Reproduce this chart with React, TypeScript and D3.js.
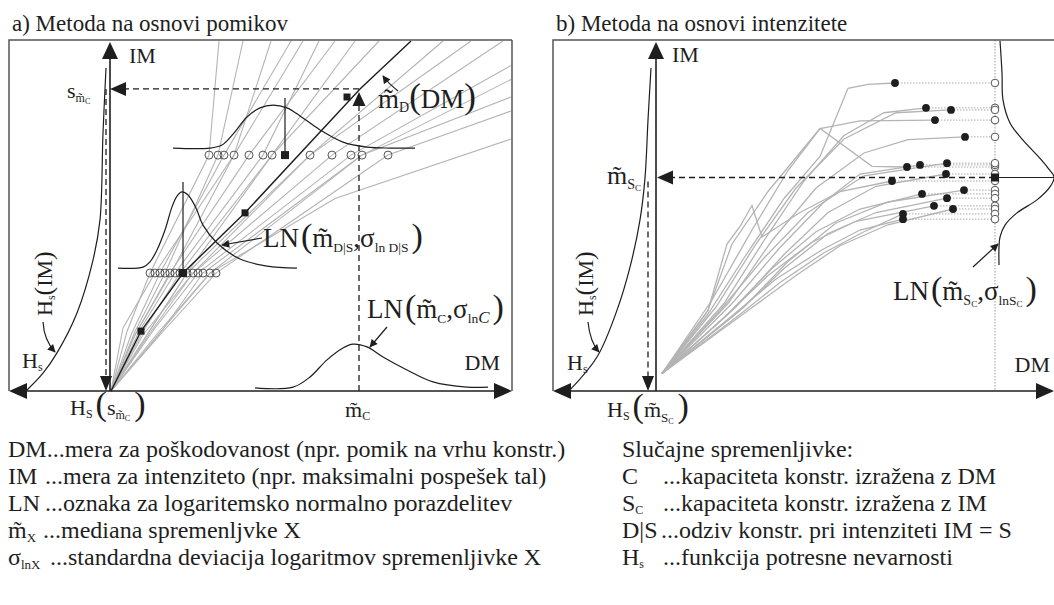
import React from "react";
import * as d3 from "d3";

const FONT = "'Liberation Serif', 'Times New Roman', Times, serif";
const INK = "#1e1e1e";
const FRAME = "#555";
const GREY = "#b4b4b4";
const MT = "m\u0303";

// ---------- panel a (displacement based) : DM / IM in 0..100 ----------
const rowLowIM = 33.7;
const rowHighIM = 67.4;
const rowLowDM = [9.75, 11, 12.25, 13.5, 14.75, 16, 17.25, 19, 20.5, 21.75, 23, 24.75, 26.25];
const rowHighDM = [24.5, 26.75, 28.25, 30.75, 34.5, 38, 40.25, 49.75, 55.25, 60, 62.75, 69.25];
const rowLowMedianDM = 18;
const rowHighMedianDM = 43.5;
const rowLowPeakIM = 59.7;
const rowHighPeakIM = 83.7;

const idaA: [number, number][][] = [
  [[0, 0], [4, 17], [9.75, 33.7], [24.5, 67.4], [27, 100]],
  [[0, 0], [3, 18], [11, 33.7], [30.75, 67.4], [40, 100]],
  [[0, 0], [5, 16], [12.25, 33.7], [28.25, 67.4], [45, 100]],
  [[0, 0], [6, 17], [13.5, 33.7], [26.75, 67.4], [33, 100]],
  [[0, 0], [5.5, 15], [14.75, 33.7], [34.5, 67.4], [56, 100]],
  [[0, 0], [7, 17], [16, 33.7], [38, 67.4], [52, 100]],
  [[0, 0], [8, 17], [17.25, 33.7], [40.25, 67.4], [67, 100]],
  [[0, 0], [9, 16], [19, 33.7], [49.75, 67.4], [83, 100]],
  [[0, 0], [10, 17], [20.5, 33.7], [55.25, 67.4], [98, 100]],
  [[0, 0], [11, 18], [21.75, 33.7], [60, 67.4], [100, 93]],
  [[0, 0], [12, 16], [23, 33.7], [62.75, 67.4], [100, 84]],
  [[0, 0], [13, 17], [26.25, 33.7], [69.25, 67.4], [100, 80]],
  [[0, 0], [11, 15], [24.75, 33.7], [56, 55], [100, 72]],
  [[0, 0], [6, 16], [15, 33.7], [30.75, 67.4], [48, 100]],
  [[0, 0], [8, 16], [20.5, 33.7], [49.75, 67.4], [90, 100]],
  [[0, 0], [12, 17], [24.75, 33.7], [62.75, 67.4], [100, 89]],
  [[0, 0], [9.5, 17], [19, 33.7], [40.25, 67.4], [61, 100]],
];

const medianDM = [0, 7.5, 18, 33.5, 62.25, 75];
const medianIM = [0, 17.1, 33.7, 50.9, 86.3, 100];
const medianMarkDM = [7.5, 33.5, 59];
const medianMarkIM = [17.1, 50.9, 84];

const capMedianDM = 62;
const capSIM = 86.3;

const pdfLowDM = [1.75, 8, 9.75, 11.5, 13.5, 15.25, 16.5, 17.75, 19.25, 21.25, 23, 26.5, 32.25, 39, 46.5];
const pdfLowIM = [35.1, 35.4, 36.9, 40.3, 46, 52.6, 55.7, 56.9, 56, 52.3, 47.4, 42.3, 37.7, 35.7, 35.1];
const pdfHighDM = [15.5, 24.75, 27.75, 30.5, 34, 37.25, 40.5, 44, 47.25, 52.25, 58, 64, 69.75, 76];
const pdfHighIM = [69.4, 69.4, 70.3, 73.4, 78.3, 80.9, 81.7, 80.9, 78.6, 74.6, 71.1, 69.7, 69.4, 69.4];
const pdfCapDM = [36, 45.5, 49.75, 54, 58, 60.5, 64, 68, 74, 80.5, 89, 94.25];
const pdfCapIM = [0.9, 1.1, 4, 8.9, 12.3, 13.4, 12.6, 9.7, 6, 2.6, 1.1, 1.1];

const hazardAH = [81, 65, 51, 31, 15, 8, 5, 2];
const hazardAIM = [0.3, 5.1, 10.9, 22.3, 37.4, 48.9, 73.7, 92.3];
const hazardAAtS = 2;

// ---------- panel b (intensity based) ----------
const idaB: [number, number][][] = [
  [[1.5, 5], [13, 22], [22, 38], [32, 55], [41, 67], [48, 86.5], [53, 87.6], [59.75, 88]],
  [[1.5, 5], [17, 25], [27, 43], [37, 60], [47, 73], [57, 79.5], [67.5, 80.9]],
  [[1.5, 5], [15, 24], [25, 42], [35, 58], [47, 72], [60, 79.5], [73.75, 80.3]],
  [[1.5, 5], [14, 26], [24, 46], [33, 63], [41, 75], [51, 77.2], [69.75, 77.4]],
  [[1.5, 5], [18, 25], [29, 43], [40, 58], [52, 68], [63, 71.8], [77.25, 72.6]],
  [[1.5, 5], [13, 23], [19, 42], [28, 57], [41, 75], [54, 64.2], [62.75, 64]],
  [[1.5, 5], [19, 25], [31, 41], [42, 54], [51, 62], [66, 64.6]],
  [[1.5, 5], [16, 23], [27, 38], [38, 51], [52, 61.5], [72.75, 65.1]],
  [[1.5, 5], [20, 24], [32, 39], [43, 51], [55, 58.5], [72.5, 62]],
  [[1.5, 5], [13, 23], [17.75, 42], [21, 47], [24, 53], [26.5, 44], [36, 51], [46, 57], [59, 60]],
  [[1.5, 5], [22, 24], [33, 37], [45, 48], [58, 54], [77, 57.4]],
  [[1.5, 5], [18, 22], [29, 35], [40, 45.5], [51, 52], [66.5, 56.3]],
  [[1.5, 5], [21, 23], [32, 35], [43, 45], [55, 51], [72.75, 55.1]],
  [[1.5, 5], [17, 21], [28, 33], [39, 42.5], [50, 48.5], [69.5, 52.9]],
  [[1.5, 5], [23, 23], [35, 33], [46, 41.5], [58, 47.5], [74.25, 52]],
  [[1.5, 5], [20, 21], [31, 31], [42, 39.5], [52, 45.5], [61.75, 50.6]],
  [[1.5, 5], [18.5, 21], [30, 32], [41.75, 40.5], [51, 46], [61.75, 49.1]],
];
const capLineDM = 84.75;
const capMedianIM = 61;
const pdfSH = [1.7, 5, 6.7, 18.3, 40, 63.3, 81.7, 91.7, 85, 63.3, 30, 10, 1.7, 0, 0];
const pdfSIM = [100, 90.9, 83.1, 76.6, 71.7, 67.4, 63.7, 61.1, 58.3, 54.6, 50.9, 47.4, 44, 41.1, 36];
const hazardBH = [84, 57, 37, 24, 14, 9, 6, 3];
const hazardBIM = [0.3, 9.7, 23.1, 35.4, 48.9, 60.9, 77.4, 92.3];
const hazardBAtMedian = 6;

// ---------- legend ----------
const legendLeft = [
  ["", "DM...mera za poškodovanost (npr. pomik na vrhu konstr.)"],
  ["IM", "...mera za intenziteto (npr. maksimalni pospešek tal)"],
  ["LN", "...oznaka za logaritemsko normalno porazdelitev"],
  ["mX", "...mediana spremenljvke X"],
  ["sig", "...standardna deviacija logaritmov spremenljivke X"],
];
const legendRight = [
  ["C", "...kapaciteta konstr. izražena z DM"],
  ["Sc", "...kapaciteta konstr. izražena z IM"],
  ["D|S", "...odziv konstr. pri intenziteti IM = S"],
  ["Hs", "...funkcija potresne nevarnosti"],
];

const yIM = d3.scaleLinear().domain([0, 100]).range([391, 41]);
const xA = d3.scaleLinear().domain([0, 100]).range([111, 511]);
const hA = d3.scaleLinear().domain([0, 100]).range([108, 8]);
const xB = d3.scaleLinear().domain([0, 100]).range([656, 1056]);
const hB = d3.scaleLinear().domain([0, 100]).range([654, 554]);
const pB = d3.scaleLinear().domain([0, 100]).range([999, 1059]);

const lineA = d3.line<number[]>().x((d) => xA(d[0])).y((d) => yIM(d[1]));
const smoothA = d3.line<number[]>().x((d) => xA(d[0])).y((d) => yIM(d[1])).curve(d3.curveCatmullRom);
const lineB = d3.line<number[]>().x((d) => xB(d[0])).y((d) => yIM(d[1]));
const hazA = d3.line<number[]>().x((d) => hA(d[0])).y((d) => yIM(d[1])).curve(d3.curveCatmullRom);
const hazB = d3.line<number[]>().x((d) => hB(d[0])).y((d) => yIM(d[1])).curve(d3.curveCatmullRom);
const pdfB = d3.line<number[]>().x((d) => pB(d[0])).y((d) => yIM(d[1])).curve(d3.curveCatmullRom);

function tri(x: number, y: number, dir: string, len = 16, half = 7) {
  if (dir === "u") return `M${x},${y}L${x - half},${y + len}L${x + half},${y + len}Z`;
  if (dir === "d") return `M${x},${y}L${x - half},${y - len}L${x + half},${y - len}Z`;
  if (dir === "l") return `M${x},${y}L${x + len},${y - half}L${x + len},${y + half}Z`;
  return `M${x},${y}L${x - len},${y - half}L${x - len},${y + half}Z`;
}

function Axes({ x0, x1, ax, bottom }: { x0: number; x1: number; ax: number; bottom: number }) {
  return (
    <g fill={INK}>
      <path d={`M${x0},${bottom}V40H${x1}`} fill="none" stroke={FRAME} strokeWidth={1.5} />
      {x1 < 1050 && <line x1={x1} x2={x1} y1={40} y2={bottom} stroke={FRAME} strokeWidth={1.5} />}
      <line x1={x0 + 6} x2={x1 - 6} y1={bottom} y2={bottom} stroke={INK} strokeWidth={1.6} />
      <line x1={ax} x2={ax} y1={bottom} y2={56} stroke={INK} strokeWidth={1.6} />
      <path d={tri(ax, 42, "u", 17, 8)} />
      <path d={tri(x0, bottom, "l", 18, 8)} />
      <path d={tri(x1, bottom, "r", 18, 8)} />
    </g>
  );
}

export default function App() {
  const dash = { stroke: INK, strokeWidth: 1.3, strokeDasharray: "6,4", fill: "none" };
  const dotsB = idaB.map((c) => c[c.length - 1]);
  const sA = yIM(capSIM);
  const mCx = xA(capMedianDM);
  const vA = hA(hazardAAtS);
  const mSy = yIM(capMedianIM);
  const vB = hB(hazardBAtMedian);
  const cx = xB(capLineDM);
  return (
    <svg
      width={1054}
      height={605}
      fontFamily={FONT}
      style={{ position: "absolute", left: 0, top: 0, background: "#fff" }}
    >
      <defs>
        <marker id="ah" viewBox="0 0 10 10" refX="9" refY="5" markerWidth="9" markerHeight="8"
          markerUnits="userSpaceOnUse" orient="auto">
          <path d="M0,0L10,5L0,10Z" fill={INK} />
        </marker>
      </defs>

      {/* ================= panel a ================= */}
      <text x={12} y={31} fontSize={23} fill={INK}>a) Metoda na osnovi pomikov</text>
      {idaA.map((c, i) => (
        <path key={i} d={lineA(c) || ""} fill="none" stroke={GREY} strokeWidth={1.1} />
      ))}
      <path d={lineA(d3.zip(medianDM, medianIM)) || ""} fill="none" stroke={INK} strokeWidth={1.4} />
      <path d={smoothA(d3.zip(pdfLowDM, pdfLowIM)) || ""} fill="none" stroke={INK} strokeWidth={1.2} />
      <path d={smoothA(d3.zip(pdfHighDM, pdfHighIM)) || ""} fill="none" stroke={INK} strokeWidth={1.2} />
      <path d={smoothA(d3.zip(pdfCapDM, pdfCapIM)) || ""} fill="none" stroke={INK} strokeWidth={1.2} />
      <line x1={xA(rowLowMedianDM)} x2={xA(rowLowMedianDM)} y1={yIM(rowLowIM)} y2={yIM(rowLowPeakIM)} stroke={INK} strokeWidth={1.2} />
      <line x1={xA(rowHighMedianDM)} x2={xA(rowHighMedianDM)} y1={yIM(rowHighIM)} y2={yIM(rowHighPeakIM)} stroke={INK} strokeWidth={1.2} />
      {rowLowDM.map((d, i) => (
        <circle key={"l" + i} cx={xA(d)} cy={yIM(rowLowIM)} r={4} fill="none" stroke="#555" strokeWidth={1} />
      ))}
      {rowHighDM.map((d, i) => (
        <circle key={"h" + i} cx={xA(d)} cy={yIM(rowHighIM)} r={4} fill="none" stroke="#555" strokeWidth={1} />
      ))}
      <rect x={xA(rowLowMedianDM) - 4} y={yIM(rowLowIM) - 4} width={8} height={8} fill={INK} />
      <rect x={xA(rowHighMedianDM) - 4} y={yIM(rowHighIM) - 4} width={8} height={8} fill={INK} />
      {medianMarkDM.map((d, i) => (
        <rect key={"m" + i} x={xA(d) - 3.5} y={yIM(medianMarkIM[i]) - 3.5} width={7} height={7} fill={INK} />
      ))}
      <path d={hazA(d3.zip(hazardAH, hazardAIM)) || ""} fill="none" stroke={INK} strokeWidth={1.2} />
      <Axes x0={9} x1={512} ax={110} bottom={391} />
      <line x1={mCx} x2={mCx} y1={391} y2={sA + 16} {...dash} />
      <path d={tri(mCx, sA + 3, "u", 14, 6.5)} fill={INK} />
      <line x1={mCx} x2={126} y1={sA} y2={sA} {...dash} />
      <path d={tri(110, sA, "l", 16, 7)} fill={INK} />
      <line x1={vA} x2={vA} y1={sA} y2={376} {...dash} />
      <path d={tri(vA, 391, "d", 15, 6)} fill={INK} />

      <g fill={INK}>
        <text x={129} y={63} fontSize={22}>IM</text>
        <text x={67} y={98} fontSize={22}>s<tspan fontSize={12} dy={4}>{MT}</tspan><tspan fontSize={8} dy={2}>C</tspan></text>
        <text x={378} y={108} fontSize={27}>{MT}<tspan fontSize={14} dy={4}>D</tspan><tspan dy={-4} fontSize={35}>(</tspan><tspan>DM</tspan><tspan fontSize={35}>)</tspan></text>
        <path d="M398,91 Q388,83 383,76" fill="none" stroke={INK} strokeWidth={1.2} markerEnd="url(#ah)" />
        <text x={263} y={247} fontSize={27}>LN<tspan fontSize={34} dx={2}>(</tspan>{MT}<tspan fontSize={13.5} dy={5}>D|S</tspan><tspan dy={-5}>,σ</tspan><tspan fontSize={13.5} dy={5}>ln D|S</tspan><tspan dy={-5} fontSize={34} dx={3}>)</tspan></text>
        <line x1={262} y1={238} x2={222} y2={245} stroke={INK} strokeWidth={1.2} markerEnd="url(#ah)" />
        <text x={367} y={318} fontSize={27}>LN<tspan fontSize={34} dx={2}>(</tspan>{MT}<tspan fontSize={13.5} dy={5}>C</tspan><tspan dy={-5}>,σ</tspan><tspan fontSize={13.5} dy={5}>ln</tspan><tspan fontSize={17} fontStyle="italic">C</tspan><tspan dy={-5} fontSize={34} dx={3}>)</tspan></text>
        <line x1={387} y1={327} x2={370} y2={347} stroke={INK} strokeWidth={1.2} markerEnd="url(#ah)" />
        <text x={500} y={370} fontSize={22} textAnchor="end">DM</text>
        <text x={22} y={368} fontSize={22}>H<tspan fontSize={12} dy={3}>s</tspan></text>
        <text transform="translate(52,316) rotate(-90)" fontSize={22}>H<tspan fontSize={12} dy={3}>s</tspan><tspan dy={-3} fontSize={26}>(</tspan>IM<tspan fontSize={26}>)</tspan></text>
        <path d="M43,322 Q44,340 55,352" fill="none" stroke={INK} strokeWidth={1.2} markerEnd="url(#ah)" />
        <text x={70} y={415} fontSize={22}>H<tspan fontSize={12} dy={3}>S</tspan><tspan dy={-3} fontSize={34} dx={3}>(</tspan><tspan>s</tspan><tspan fontSize={12} dy={4}>{MT}</tspan><tspan fontSize={8} dy={2}>C</tspan><tspan fontSize={34} dy={-6} dx={4}>)</tspan></text>
        <text x={345} y={417} fontSize={22}>{MT}<tspan fontSize={12} dy={3}>C</tspan></text>
      </g>

      {/* ================= panel b ================= */}
      <text x={556} y={31} fontSize={23} fill={INK}>b) Metoda na osnovi intenzitete</text>
      <line x1={cx} x2={cx} y1={40} y2={391} stroke="#999" strokeWidth={1} strokeDasharray="1.5,1.5" />
      {idaB.map((c, i) => (
        <path key={i} d={lineB(c) || ""} fill="none" stroke={GREY} strokeWidth={1.3} />
      ))}
      {dotsB.map((d, i) => (
        <line key={"c" + i} x1={xB(d[0])} x2={cx} y1={yIM(d[1])} y2={yIM(d[1])} stroke="#aaa" strokeWidth={1} strokeDasharray="1.5,1.5" />
      ))}
      {dotsB.map((d, i) => (
        <circle key={"o" + i} cx={cx} cy={yIM(d[1])} r={3.8} fill="#fff" stroke="#555" strokeWidth={1} />
      ))}
      {dotsB.map((d, i) => (
        <circle key={"d" + i} cx={xB(d[0])} cy={yIM(d[1])} r={3.9} fill={INK} />
      ))}
      <rect x={cx - 4} y={mSy - 4} width={8} height={8} fill={INK} />
      <path d={pdfB(d3.zip(pdfSH, pdfSIM)) || ""} fill="none" stroke={INK} strokeWidth={1.2} />
      <line x1={cx} x2={1054} y1={mSy} y2={mSy} stroke={INK} strokeWidth={1.2} />
      <path d={hazB(d3.zip(hazardBH, hazardBIM)) || ""} fill="none" stroke={INK} strokeWidth={1.2} />
      <Axes x0={553} x1={1054} ax={656} bottom={391} />
      <line x1={cx} x2={672} y1={mSy} y2={mSy} {...dash} />
      <path d={tri(657, mSy, "l", 16, 7)} fill={INK} />
      <line x1={vB} x2={vB} y1={mSy + 4} y2={376} {...dash} />
      <path d={tri(vB, 391, "d", 15, 6)} fill={INK} />

      <g fill={INK}>
        <text x={672} y={62} fontSize={22}>IM</text>
        <text x={607} y={184} fontSize={26}>{MT}<tspan fontSize={14} dy={5}>S</tspan><tspan fontSize={9} dy={2}>C</tspan></text>
        <text x={893} y={300} fontSize={27}>LN<tspan fontSize={34} dx={2}>(</tspan>{MT}<tspan fontSize={14} dy={5}>S</tspan><tspan fontSize={9} dy={2}>C</tspan><tspan dy={-7}>,σ</tspan><tspan fontSize={13.5} dy={5}>lnS</tspan><tspan fontSize={9} dy={2}>C</tspan><tspan dy={-7} fontSize={34} dx={3}>)</tspan></text>
        <line x1={973} y1={267} x2={998} y2={244} stroke={INK} strokeWidth={1.2} markerEnd="url(#ah)" />
        <text x={1050} y={372} fontSize={22} textAnchor="end">DM</text>
        <text x={567} y={370} fontSize={22}>H<tspan fontSize={12} dy={3}>s</tspan></text>
        <text transform="translate(593,316) rotate(-90)" fontSize={22}>H<tspan fontSize={12} dy={3}>s</tspan><tspan dy={-3} fontSize={26}>(</tspan>IM<tspan fontSize={26}>)</tspan></text>
        <path d="M588,322 Q590,342 599,352" fill="none" stroke={INK} strokeWidth={1.2} markerEnd="url(#ah)" />
        <text x={607} y={417} fontSize={22}>H<tspan fontSize={12} dy={3}>S</tspan><tspan dy={-3} fontSize={34} dx={3}>(</tspan>{MT}<tspan fontSize={13} dy={5}>S</tspan><tspan fontSize={8} dy={2}>C</tspan><tspan fontSize={34} dy={-7} dx={4}>)</tspan></text>
      </g>

      {/* ================= legend ================= */}
      <g fill={INK} fontSize={24}>
        {legendLeft.map(([k, t], i) => {
          const y = 457 + i * 27;
          let key: React.ReactNode = k;
          let tx = 45;
          if (k === "") tx = 8;
          if (k === "mX") { key = <>{MT}<tspan fontSize={13} dy={4}>X</tspan></>; tx = 43; }
          if (k === "sig") { key = <>σ<tspan fontSize={13} dy={4}>lnX</tspan></>; tx = 50; }
          return (
            <g key={"k" + i}>
              {k !== "" && <text x={8} y={y}>{key}</text>}
              <text x={tx} y={y}>{t}</text>
            </g>
          );
        })}
        <text x={622} y={457}>Slučajne spremenljivke:</text>
        {legendRight.map(([k, t], i) => {
          const y = 484 + i * 27;
          let key: React.ReactNode = k;
          let tx = 663;
          if (k === "Sc") key = <>S<tspan fontSize={12} dy={3}>C</tspan></>;
          if (k === "Hs") key = <>H<tspan fontSize={12} dy={3}>s</tspan></>;
          if (k === "D|S") tx = 661;
          return (
            <g key={k}>
              <text x={622} y={y}>{key}</text>
              <text x={tx} y={y}>{t}</text>
            </g>
          );
        })}
      </g>
    </svg>
  );
}
